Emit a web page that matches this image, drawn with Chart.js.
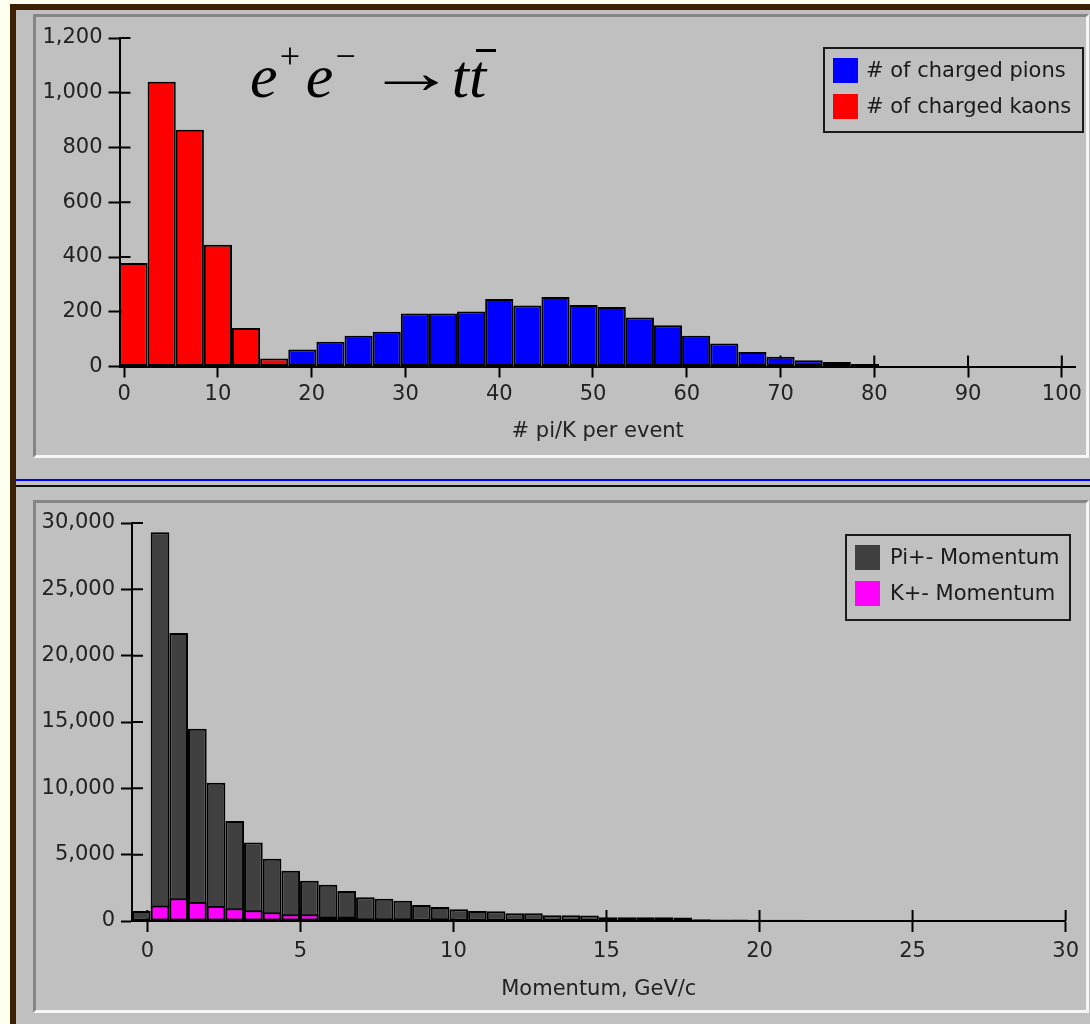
<!DOCTYPE html>
<html lang="en">
<head>
<meta charset="UTF-8">
<title>Charged pions and kaons in e+e- -> t tbar</title>
<script src="https://cdn.jsdelivr.net/npm/chart.js"></script>
<style>
    body { margin: 0; width: 1090px; height: 1024px; overflow: hidden; position: relative; background: #fffff0; font-family: 'DejaVu Sans', sans-serif; }
    #frame { position: absolute; left: 10px; top: 4px; width: 1100px; height: 1040px; border-left: 6px solid #3d2004; border-top: 6px solid #3d2004; background: #c0c0c0; }
    .panel { position: absolute; left: 33px; width: 1050px; background: #c0c0c0; border-left: 3px solid #858585; border-top: 3px solid #858585; border-right: 3px solid #f6f6f6; border-bottom: 3px solid #f6f6f6; }
    #topPanel { top: 14px; height: 438px; }
    #bottomPanel { top: 500px; height: 507px; }
    .panel canvas { position: absolute; left: 0; top: 0; }
    .rule { position: absolute; left: 16px; width: 1074px; height: 2px; }
    #blueRule { top: 479px; background: #0000ff; }
    #blackRule { top: 485px; background: #111; }
    .legend { position: absolute; box-sizing: border-box; border: 2px solid #1a1a1a; padding: 3px 0 0 8px; font-size: 21px; color: #1a1a1a; }
    .legend .item { display: flex; align-items: center; height: 36px; white-space: nowrap; }
    .legend .swatch { width: 25px; height: 25px; margin-right: 8px; flex: none; }
    #topLegend { left: 823px; top: 47px; width: 261px; height: 86px; }
    #bottomLegend { left: 845px; top: 534px; width: 226px; height: 87px; }
    #bottomLegend .swatch { margin-right: 10px; }
    #formula { position: absolute; left: 250px; top: 45px; font: italic 62px 'Liberation Serif', 'Times New Roman', serif; line-height: 1; white-space: nowrap; color: #000; }
    #formula sup { font-size: 36px; vertical-align: 29px; line-height: 0; }
    #formula .e2 { margin-left: 4px; }
    #formula .arrow { display: inline-block; font-style: normal; margin-left: 22px; margin-right: 10px; transform: translateY(-4px) scaleX(1.45); }
    #formula .tbar { position: relative; }
    #formula .tbar::after { content: ''; position: absolute; left: 7px; top: 7px; width: 20px; height: 3px; background: #000; }
</style>
</head>
<body>
<div id="frame"></div>
<div class="panel" id="topPanel"><canvas id="multChart" width="1050" height="438"></canvas></div>
<div class="rule" id="blueRule"></div>
<div class="rule" id="blackRule"></div>
<div class="panel" id="bottomPanel"><canvas id="momChart" width="1050" height="507"></canvas></div>
<div id="formula"><span>e</span><sup>+</sup><span class="e2">e</span><sup>−</sup><span class="arrow">→</span><span>t</span><span class="tbar">t</span></div>
<div class="legend" id="topLegend"></div>
<div class="legend" id="bottomLegend"></div>

<script>
    // multiplicity histogram: bins of width 3 starting at -0.5
    const multBinLow = -0.5;
    const multBinWidth = 3;
    const pionCounts = [0, 0, 0, 0, 0, 0, 62, 90, 112, 127, 194, 194, 201, 247, 223, 254, 225, 217, 179, 151, 112, 84, 53, 36, 23, 16, 9];
    const kaonCounts = [378, 1040, 865, 445, 141, 29];
    const multTicksX = [0, 10, 20, 30, 40, 50, 60, 70, 80, 90, 100];
    const multTicksY = [0, 200, 400, 600, 800, 1000, 1200];

    // momentum histogram: bins of width 0.61 GeV/c starting at -0.5
    const momBinLow = -0.5;
    const momBinWidth = 0.61;
    const pionMomentum = [760, 29300, 21700, 14500, 10420, 7540, 5920, 4700, 3790, 3030, 2730, 2270, 1790, 1670, 1520, 1210, 1060, 880, 760, 740,
        580, 580, 430, 430, 420, 280, 280, 280, 280, 270, 130, 120, 110, 100, 100, 90, 80, 70];
    const kaonMomentum = [0, 1170, 1720, 1440, 1140, 960, 810, 660, 510, 510, 330, 330, 200, 200, 200, 0, 200];
    const momTicksX = [0, 5, 10, 15, 20, 25, 30];
    const momTicksY = [0, 5000, 10000, 15000, 20000, 25000, 30000];

    Chart.defaults.font.family = "'DejaVu Sans', sans-serif";
    Chart.defaults.font.size = 21;
    Chart.defaults.color = '#222';

    const TICK = 11; // tick marks stick out this far on both sides of an axis

    function binPoints(low, width, counts) {
        return counts.map((v, i) => ({ x: low + (i + 0.5) * width, y: v }));
    }

    function barSet(label, data, colour, order) {
        return {
            label: label, data: data, backgroundColor: colour, borderColor: '#000', borderWidth: 2,
            borderSkipped: false, barPercentage: 1, categoryPercentage: 1, grouped: false,
            inflateAmount: 0, order: order
        };
    }

    // tick marks cross the axis: draw the inside half under the bars
    const innerTicks = {
        id: 'innerTicks',
        beforeDatasetsDraw(chart) {
            const { ctx, chartArea, scales: { x, y } } = chart;
            ctx.save();
            ctx.strokeStyle = '#000';
            ctx.lineWidth = 2;
            ctx.beginPath();
            x.ticks.forEach(t => {
                const px = x.getPixelForValue(t.value);
                ctx.moveTo(px, chartArea.bottom);
                ctx.lineTo(px, chartArea.bottom - TICK);
            });
            y.ticks.forEach(t => {
                const py = y.getPixelForValue(t.value);
                ctx.moveTo(chartArea.left, py);
                ctx.lineTo(chartArea.left + TICK, py);
            });
            ctx.stroke();
            ctx.restore();
        }
    };

    function histogramOptions(c) {
        const axisGrid = { drawOnChartArea: false, offset: false, tickLength: TICK, tickColor: '#000', tickWidth: 2 };
        const axisBorder = { display: true, color: '#000', width: 2 };
        return {
            responsive: false,
            animation: false,
            layout: { autoPadding: false, padding: { left: 0, right: c.padRight, top: c.padTop, bottom: 0 } },
            plugins: { legend: { display: false }, tooltip: { enabled: false } },
            scales: {
                x: {
                    type: 'linear', min: c.xMin, max: c.xMax, offset: false,
                    afterFit: s => { s.height = c.xAxisHeight; },
                    afterBuildTicks: s => { s.ticks = c.xTicks.map(v => ({ value: v })); },
                    grid: axisGrid, border: axisBorder,
                    ticks: { autoSkip: false, maxRotation: 0, padding: c.xLabelPad },
                    title: { display: true, text: c.xTitle, padding: { top: 0, bottom: c.titlePad } }
                },
                y: {
                    min: 0, max: c.yMax,
                    afterFit: s => { s.width = c.yAxisWidth; },
                    afterBuildTicks: s => { s.ticks = c.yTicks.map(v => ({ value: v })); },
                    grid: axisGrid, border: axisBorder,
                    ticks: { padding: 6, callback: v => v.toLocaleString('en-US') }
                }
            }
        };
    }

    function htmlLegend(chart, id) {
        const box = document.getElementById(id);
        chart.data.datasets.forEach(ds => {
            const row = document.createElement('div');
            row.className = 'item';
            const sw = document.createElement('span');
            sw.className = 'swatch';
            sw.style.background = ds.backgroundColor;
            const txt = document.createElement('span');
            txt.textContent = ds.label;
            row.append(sw, txt);
            box.append(row);
        });
    }

    const multChart = new Chart(document.getElementById('multChart'), {
        type: 'bar',
        data: {
            datasets: [
                barSet('# of charged pions', binPoints(multBinLow, multBinWidth, pionCounts), '#0000ff', 2),
                barSet('# of charged kaons', binPoints(multBinLow, multBinWidth, kaonCounts), '#ff0000', 1)
            ]
        },
        options: histogramOptions({
            xMin: -0.5, xMax: 101.5, yMax: 1200, xTicks: multTicksX, yTicks: multTicksY,
            xTitle: '# pi/K per event', padRight: 10, padTop: 21, xAxisHeight: 88.5, yAxisWidth: 83.5,
            xLabelPad: 4, titlePad: 11
        }),
        plugins: [innerTicks]
    });

    const momChart = new Chart(document.getElementById('momChart'), {
        type: 'bar',
        data: {
            datasets: [
                barSet('Pi+- Momentum', binPoints(momBinLow, momBinWidth, pionMomentum), '#404040', 2),
                barSet('K+- Momentum', binPoints(momBinLow, momBinWidth, kaonMomentum), '#ff00ff', 1)
            ]
        },
        options: histogramOptions({
            xMin: -0.5, xMax: 30, yMax: 30000, xTicks: momTicksX, yTicks: momTicksY,
            xTitle: 'Momentum, GeV/c', padRight: 15, padTop: 20, xAxisHeight: 89, yAxisWidth: 96,
            xLabelPad: 7, titlePad: 8
        }),
        plugins: [innerTicks]
    });

    htmlLegend(multChart, 'topLegend');
    htmlLegend(momChart, 'bottomLegend');
</script>
</body>
</html>
